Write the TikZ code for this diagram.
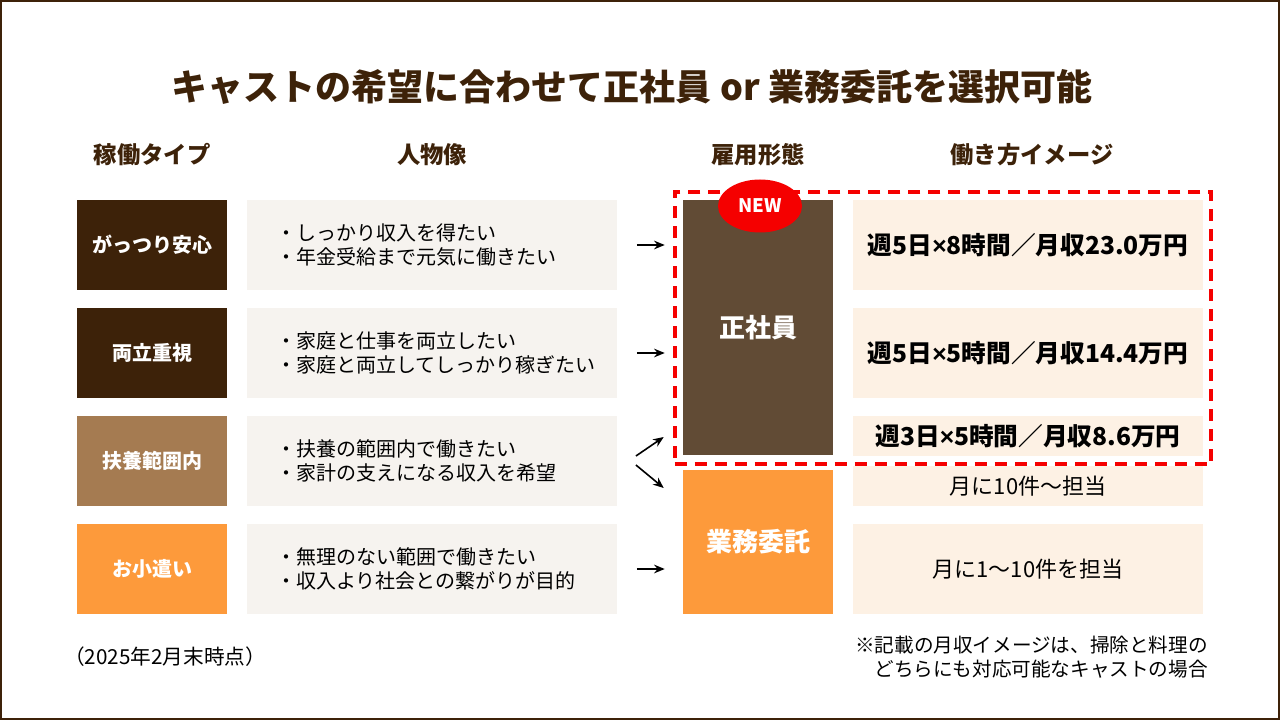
\documentclass[tikz,border=0pt]{standalone}
\usepackage{fontspec}
\setmainfont{Noto Sans CJK JP}
\newfontfamily\hankaku{Liberation Sans}
\usepackage{tikz}
\usetikzlibrary{shapes.geometric, arrows.meta, positioning, calc, fit}

\definecolor{kogecha}{HTML}{3D2209}
\definecolor{chairo}{HTML}{A57B51}
\definecolor{daidai}{HTML}{FD9A3B}
\definecolor{shainbraun}{HTML}{614B35}
\definecolor{hitofill}{HTML}{F6F3EF}
\definecolor{imgfill}{HTML}{FDF1E4}
\definecolor{akared}{HTML}{F50000}

\newcommand{\kakeru}{{\hankaku\bfseries ×}}

\tikzset{
    typbox/.style={rectangle, minimum width=112.5pt, minimum height=67.5pt, inner sep=0pt, text=white, font=\fontsize{15}{18}\selectfont\bfseries},
    hitobox/.style={rectangle, fill=hitofill, text width=234pt, inner xsep=21.5pt, inner ysep=0pt, minimum height=67.5pt, align=left, font=\fontsize{15}{18.5}\selectfont},
    koyobox/.style={rectangle, minimum width=112.5pt, inner sep=0pt, text=white, font=\fontsize{19.5}{22}\selectfont\bfseries},
    imgbox/.style={rectangle, fill=imgfill, minimum width=262.5pt, inner sep=0pt},
    midashi/.style={text=kogecha, font=\fontsize{17.5}{20}\selectfont\bfseries},
    pfeil/.style={-{Stealth[length=8pt, width=6.5pt]}, line width=1.2pt, draw=black}
}

\begin{document}
\begin{tikzpicture}[x=0.75pt, y=-0.75pt]

        % -----------------------------------------------------------------
        % FRAME & TITLE
        % -----------------------------------------------------------------
        \useasboundingbox (0,0) rectangle (1280,720);
        \draw[kogecha, line width=1.5pt] (1,1) rectangle (1279,719);

        \node (titel) at (632,87) [text=kogecha, font=\fontsize{27}{30}\selectfont\bfseries] {キャストの希望に合わせて正社員 or 業務委託を選択可能};

        % column headers
        \node (h_typ)  at (152,155)  [midashi] {稼働タイプ};
        \node (h_hito) at (432,155)  [midashi] {人物像};
        \node (h_koyo) at (758,155)  [midashi] {雇用形態};
        \node (h_img)  at (1032,155) [midashi] {働き方イメージ};

        % =================================================================
        % TYPE + PERSONA ROWS
        % =================================================================
        \node (t1) at (152,245) [typbox, fill=kogecha] {がっつり安心};
        \node (t2) at (152,353) [typbox, fill=kogecha] {両立重視};
        \node (t3) at (152,461) [typbox, fill=chairo]  {扶養範囲内};
        \node (t4) at (152,569) [typbox, fill=daidai]  {お小遣い};

        \node (p1) at (432,245) [hitobox] {・しっかり収入を得たい\\・年金受給まで元気に働きたい};
        \node (p2) at (432,353) [hitobox] {・家庭と仕事を両立したい\\・家庭と両立してしっかり稼ぎたい};
        \node (p3) at (432,461) [hitobox] {・扶養の範囲内で働きたい\\・家計の支えになる収入を希望};
        \node (p4) at (432,569) [hitobox] {・無理のない範囲で働きたい\\・収入より社会との繋がりが目的};

        % =================================================================
        % EMPLOYMENT FORM & WORK IMAGE
        % =================================================================
        \node (shain) at (758,327.5) [koyobox, fill=shainbraun, minimum height=191.25pt] {正社員};
        \node (gyomu) at (758,542)   [koyobox, fill=daidai, minimum height=108pt] {業務委託};

        \node (w1) at (1028,245) [imgbox, minimum height=67.5pt, font=\fontsize{18.5}{20}\selectfont\bfseries] {週5日\kakeru 8時間／月収23.0万円};
        \node (w2) at (1028,353) [imgbox, minimum height=67.5pt, font=\fontsize{18.5}{20}\selectfont\bfseries] {週5日\kakeru 5時間／月収14.4万円};
        \node (w3) at (1028,436) [imgbox, minimum height=30pt, font=\fontsize{18.5}{20}\selectfont\bfseries] {週3日\kakeru 5時間／月収8.6万円};
        \node (w4) at (1028,486) [imgbox, minimum height=30pt, font=\fontsize{16.5}{20}\selectfont] {月に10件〜担当};
        \node (w5) at (1028,569) [imgbox, minimum height=67.5pt, font=\fontsize{16.5}{20}\selectfont] {月に1〜10件を担当};

        % red dashed frame + NEW badge
        \node (neuwahl) [fit=(shain)(w1)(w3), draw=akared, dash pattern=on 9pt off 6pt, line width=3pt, inner sep=6pt] {};
        \node (neu) at (760,206) [ellipse, fill=akared, minimum width=63pt, minimum height=39.75pt, inner sep=0pt, text=white, font=\fontsize{14}{16}\selectfont\bfseries] {NEW};

        % -----------------------------------------------------------------
        % ARROWS
        % -----------------------------------------------------------------
        \draw[pfeil] ($(p1.east)+(20,0)$) -- ($(p1.east -| shain.west)+(-18,0)$);
        \draw[pfeil] ($(p2.east)+(20,0)$) -- ($(p2.east -| shain.west)+(-18,0)$);
        \draw[pfeil] ($(p3.east)+(19,-5)$) -- ($(p3.east -| shain.west)+(-19,-24)$);
        \draw[pfeil] ($(p3.east)+(19,4)$) -- ($(p3.east -| gyomu.west)+(-19,27)$);
        \draw[pfeil] ($(p4.east)+(20,0)$) -- ($(p4.east -| gyomu.west)+(-18,0)$);

        % notes
        \node (stand) at (64,657) [anchor=west, inner sep=0pt, font=\fontsize{15.5}{18}\selectfont] {（2025年2月末時点）};
        \node (chuki) at (1208,657) [anchor=east, inner sep=0pt, align=right, font=\fontsize{14.7}{18}\selectfont] {※記載の月収イメージは、掃除と料理の\\どちらにも対応可能なキャストの場合};

\end{tikzpicture}
\end{document}
